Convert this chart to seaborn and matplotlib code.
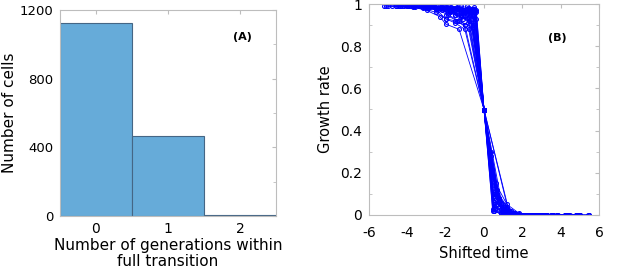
import numpy as np
import pandas as pd
import matplotlib
matplotlib.use("Agg")
import matplotlib.pyplot as plt
import seaborn as sns
from matplotlib.ticker import MultipleLocator

# ---- Panel A data ----
generations = [0, 1, 2]
cell_counts = [1126, 466, 6]

# ---- Panel B data (hand-read traces) ----
shifted_times = [
    [-5.2, -4.6, -4.0, -3.4, -2.8, -2.2, -1.6, -1.0, -0.5, 0, 0.5, 1.0, 1.5, 2.0, 2.6, 3.2, 3.8, 4.4, 5.0, 5.5],
    [-4.8, -4.2, -3.6, -3.0, -2.4, -1.8, -1.2, -0.6, 0, 0.6, 1.2, 1.8, 2.4, 3.0, 3.6, 4.2, 4.8],
    [-4.4, -3.7, -3.0, -2.3, -2.0, -1.3, 0, 1.3, 2.0, 2.6, 3.2, 3.8],
    [-3.9, -3.2, -2.5, -2.0, -1.5, -1.0, 0, 0.5, 1.0, 1.5, 2.0, 2.5, 3.0],
    [-3.5, -2.9, -2.3, -1.7, -1.1, -0.55, 0, 0.5, 1.0, 1.5, 2.0, 2.5, 3.0],
    [-2.6, -2.0, -1.4, -0.8, -0.4, 0, 0.5, 1.0, 1.5, 2.0, 2.6, 3.2, 3.8, 4.4],
    [-2.2, -1.6, -1.1, -0.6, 0, 0.55, 1.1, 1.6, 2.1, 2.6],
    [-1.9, -1.4, -0.9, -0.45, 0, 0.45, 0.9, 1.35, 1.8, 2.3, 2.8, 3.3, 3.8, 4.3, 4.8],
    [-1.5, -1.0, -0.5, 0, 0.6, 1.2, 1.8, 2.4, 3.0, 3.6],
    [-5.0, -4.3, -3.6, -2.9, -2.2, -1.5, -0.8, 0, 0.7, 1.4, 2.1, 2.8, 3.5, 4.2],
    [-3.0, -2.4, -1.8, -1.2, -0.6, 0, 0.4, 0.8, 1.2, 1.6, 2.0],
    [-1.2, -0.8, -0.4, 0, 0.5, 1.0, 1.5, 2.0, 2.5, 3.0],
    [-2.8, -2.1, -1.4, -0.7, 0, 0.7, 1.4, 2.1, 2.8, 3.5, 4.2, 4.9, 5.5],
    [-4.1, -3.4, -2.7, -2.0, -1.3, -0.65, 0, 0.35, 0.7, 1.05, 1.4, 1.75, 2.1],
    [-0.9, -0.5, 0, 0.5, 1.0, 1.5],
    [-2.0, -1.5, -1.0, 0, 1.0, 1.5, 2.0],
    [-4.6, -3.9, -3.2, -2.5, -1.8, -1.1, -0.45, 0, 0.45, 0.9, 1.35, 1.8, 2.4, 3.0],
    [-3.3, -2.6, -1.9, -1.2, -0.75, 0, 0.8, 1.5, 2.2, 2.9, 3.6, 4.3, 5.0],
    [-1.7, -1.2, -0.7, 0, 0.35, 0.7, 1.05, 1.4, 1.9],
    [-2.4, -1.8, -1.2, -0.5, 0, 0.5, 0.95, 1.4, 1.9, 2.4],
    [-5.1, -4.4, -3.7, -3.0, -2.3, -1.6, -0.9, 0, 0.9, 1.8, 2.7, 3.6, 4.5, 5.4],
    [-3.7, -3.1, -2.5, -1.9, -1.3, -0.6, 0, 1.3, 1.9, 2.5, 3.1],
    [-2.5, -2.0, -1.5, -1.0, -0.5, 0, 0.5, 1.0, 1.5, 2.0],
    [-1.0, -0.6, 0, 0.6, 1.2, 1.8, 2.4, 3.0, 3.6, 4.2, 4.8],
    [-4.0, -3.3, -2.6, -1.9, -1.2, -0.5, 0, 0.45, 0.9, 1.35, 1.8, 2.3, 2.8, 3.3, 3.8],
    [-3.2, -2.5, -1.8, -1.1, -0.4, 0, 0.4, 0.8, 1.2, 1.6, 2.0, 2.4],
    [-2.0, -1.4, -0.8, 0, 0.8, 1.4, 2.0, 2.6, 3.2],
    [-4.5, -3.8, -3.1, -2.4, -1.7, -1.0, -0.5, 0, 0.55, 1.1, 1.65, 2.2, 2.75, 3.3, 3.85, 4.4],
    [-1.4, -0.9, -0.5, 0, 0.3, 0.65, 1.0, 1.35, 1.7, 2.1, 2.5],
    [-2.9, -2.2, -1.5, -0.8, 0, 0.5, 1.0, 1.5, 2.0, 2.6, 3.2, 3.8, 4.4, 5.0],
]
growth_rates = [
    [.99, .99, .99, .99, .985, .98, .975, .96, .95, .5, .08, .02, 0, 0, 0, 0, 0, 0, 0, 0],
    [.99, .99, .985, .98, .97, .96, .94, .90, .5, .10, .01, 0, 0, 0, 0, 0, 0],
    [.99, .985, .97, .94, .905, .88, .5, .02, 0, 0, 0, 0],
    [.99, .98, .96, .93, .91, .88, .5, .10, .02, .01, 0, 0, 0],
    [.995, .99, .985, .975, .96, .97, .5, .02, .01, 0, 0, 0, 0],
    [.99, .99, .98, .97, .96, .5, .10, .03, .005, 0, 0, 0, 0, 0],
    [.985, .98, .97, .96, .5, .03, 0, 0, 0, 0],
    [.99, .985, .975, .97, .5, .02, .01, 0, 0, 0, 0, 0, 0, 0, 0],
    [.98, .97, .94, .5, .15, .05, .01, 0, 0, 0],
    [.99, .99, .99, .98, .97, .95, .92, .5, .10, .01, 0, 0, 0, 0],
    [.99, .98, .97, .95, .91, .5, .20, .06, .02, 0, 0],
    [.99, .98, .97, .5, .06, .01, 0, 0, 0, 0],
    [.99, .98, .955, .93, .5, .05, 0, 0, 0, 0, 0, 0, 0],
    [.995, .99, .99, .985, .98, .975, .5, .30, .12, .04, .01, 0, 0],
    [.99, .975, .5, .02, 0, 0],
    [.97, .95, .90, .5, .02, 0, 0],
    [.99, .99, .985, .975, .96, .93, .96, .5, .18, .05, .015, 0, 0, 0],
    [.995, .99, .98, .965, .95, .5, .04, 0, 0, 0, 0, 0, 0],
    [.985, .975, .96, .5, .28, .10, .03, .01, 0],
    [.98, .965, .945, .90, .5, .14, .04, .01, 0, 0],
    [.99, .99, .99, .985, .98, .97, .95, .5, .03, 0, 0, 0, 0, 0],
    [.99, .985, .975, .95, .92, .89, .5, .01, 0, 0, 0],
    [.975, .93, .92, .90, .97, .5, .05, .01, 0, 0],
    [.96, .95, .5, .12, .04, .005, 0, 0, 0, 0, 0],
    [.99, .99, .985, .98, .975, .985, .5, .03, 0, 0, 0, 0, 0, 0, 0],
    [.995, .99, .98, .96, .93, .5, .22, .08, .03, .01, 0, 0],
    [.95, .92, .88, .5, .08, .02, 0, 0, 0],
    [.99, .99, .985, .98, .97, .945, .975, .5, .07, .01, 0, 0, 0, 0, 0, 0],
    [.98, .97, .96, .5, .30, .10, .03, .01, 0, 0, 0],
    [.99, .985, .97, .94, .5, .04, .01, 0, 0, 0, 0, 0, 0, 0],
]

rows = []
for cid, (ts, gs) in enumerate(zip(shifted_times, growth_rates)):
    for t, g in zip(ts, gs):
        rows.append({"cell": cid, "t": t, "g": g})
df_b = pd.DataFrame(rows)
df_a = pd.DataFrame({"gen": generations, "count": cell_counts})

sns.set_style("white")
plt.rcParams["font.family"] = ["DejaVu Sans"]
plt.rcParams["axes.unicode_minus"] = False
plt.rcParams["text.color"] = "black"
plt.rcParams["axes.labelcolor"] = "black"
plt.rcParams["xtick.labelcolor"] = "black"
plt.rcParams["ytick.labelcolor"] = "black"

W, H = 617, 275
fig = plt.figure(figsize=(W / 100, H / 100), dpi=100)
axA = fig.add_axes([60 / W, (H - 216) / H, 216 / W, 206 / H])
axB = fig.add_axes([369 / W, (H - 215) / H, 230 / W, 211 / H])

bar_color = (0.40, 0.67, 0.85)
sns.barplot(data=df_a, x="gen", y="count", ax=axA, color=bar_color, width=1.0,
            edgecolor=(0.27, 0.40, 0.52), linewidth=0.8, saturation=1)
axA.set_xlim(-0.5, 2.5)
axA.set_ylim(0, 1200)
axA.set_yticks([0, 400, 800, 1200])
axA.yaxis.set_minor_locator(MultipleLocator(200))
axA.set_xlabel("Number of generations within\nfull transition", fontsize=11, labelpad=2,
               linespacing=1.05, color="black")
axA.set_ylabel("Number of cells", fontsize=11, labelpad=2, color="black")
axA.text(0.843, 0.869, "(A)", transform=axA.transAxes, fontsize=8, fontweight="bold",
         ha="center", va="center", color="black")

sns.lineplot(data=df_b, x="t", y="g", units="cell", estimator=None, ax=axB,
             color=(0, 0, 1), linewidth=0.6, marker="o", markersize=2.8,
             markerfacecolor="none", markeredgecolor=(0, 0, 1), markeredgewidth=0.8,
             sort=False, legend=False)
axB.set_xlim(-6, 6)
axB.set_ylim(0, 1)
xt = [-6, -4, -2, 0, 2, 4, 6]
axB.set_xticks(xt)
axB.set_xticklabels([str(v) for v in xt])
axB.set_yticks([0, 0.2, 0.4, 0.6, 0.8, 1])
axB.set_yticklabels(["0", "0.2", "0.4", "0.6", "0.8", "1"])
axB.yaxis.set_minor_locator(MultipleLocator(0.1))
axB.set_xlabel("Shifted time", fontsize=10.5, labelpad=4, color="black")
axB.set_ylabel("Growth rate", fontsize=10.5, labelpad=5, color="black")
axB.text(0.817, 0.839, "(B)", transform=axB.transAxes, fontsize=8, fontweight="bold",
         ha="center", va="center", color="black")

for ax in (axA, axB):
    for s in ax.spines.values():
        s.set_color("#bdbdbd")
        s.set_linewidth(0.8)
    ax.tick_params(which="both", direction="in", top=True, right=True,
                   color="#bdbdbd", labelcolor="black")
    ax.tick_params(which="major", length=3)
    ax.tick_params(which="minor", length=2, left=True, right=True, bottom=False, top=False)
axA.tick_params(axis="y", labelsize=9.5, pad=5)
axA.tick_params(axis="x", labelsize=10, pad=4)
axB.tick_params(axis="y", labelsize=10, pad=5)
axB.tick_params(axis="x", labelsize=10, pad=8)

fig.savefig("out.png", dpi=100)
